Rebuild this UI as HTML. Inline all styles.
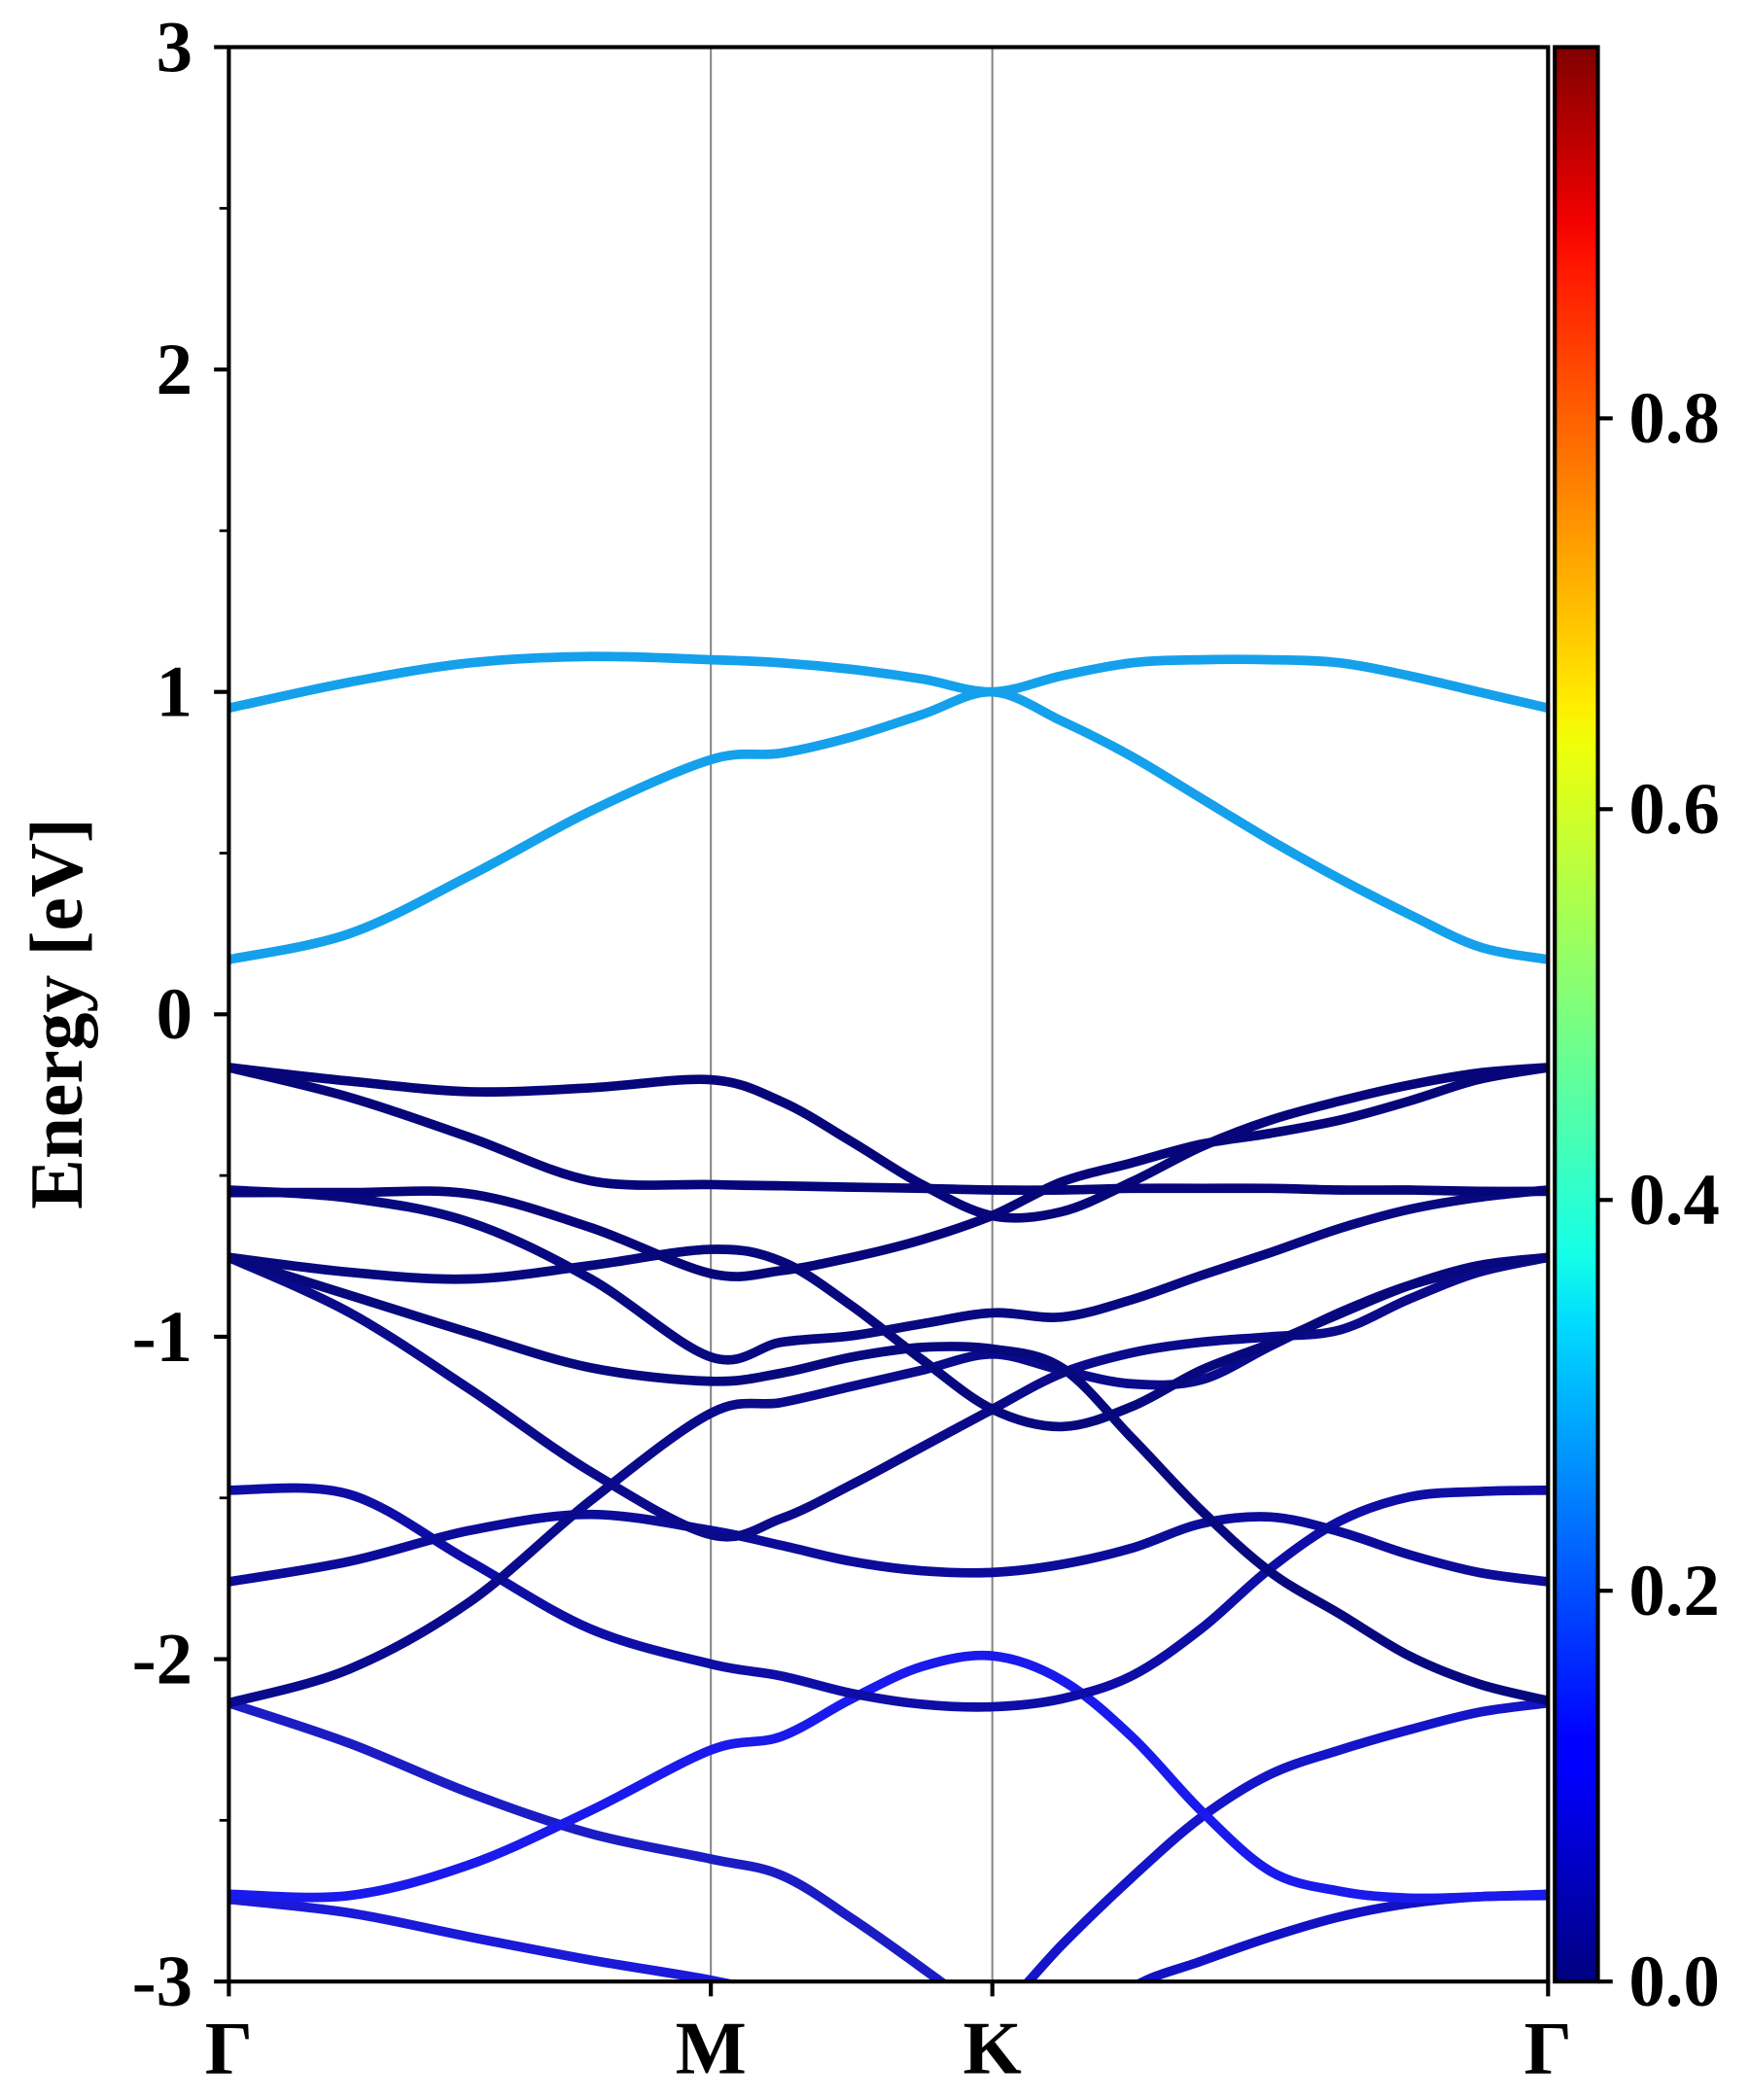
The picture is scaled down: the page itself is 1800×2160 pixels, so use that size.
<!DOCTYPE html>
<html><head><meta charset="utf-8"><style>
html,body{margin:0;padding:0;background:#fff;}
svg{display:block;}
svg text{font-family:"Liberation Serif","Times New Roman",Times,serif;font-weight:700;}
</style></head><body>
<svg id="chart" xmlns="http://www.w3.org/2000/svg" width="1800" height="2160" viewBox="0 0 1300 1560">
<defs>
<linearGradient id="jet" x1="0" y1="1" x2="0" y2="0">
<stop offset="0" stop-color="#00007f"/><stop offset="0.11" stop-color="#0000ff"/><stop offset="0.125" stop-color="#0000ff"/>
<stop offset="0.34" stop-color="#00dbff"/><stop offset="0.375" stop-color="#14ffe8"/><stop offset="0.64" stop-color="#efff08"/>
<stop offset="0.66" stop-color="#ffed00"/><stop offset="0.89" stop-color="#ff1300"/><stop offset="0.91" stop-color="#f20000"/>
<stop offset="1" stop-color="#800000"/></linearGradient>
<clipPath id="plotclip"><rect x="170" y="35" width="980" height="1437"/></clipPath>
</defs>
<rect x="0" y="0" width="1300" height="1560" fill="#fff"/>
<g id="hsym"></g>
<g id="bands" clip-path="url(#plotclip)"></g>
<rect x="170" y="35" width="980" height="1437" fill="none" stroke="#000" stroke-width="3"/>
<g id="axes"></g>
<text x="42" y="753" transform="rotate(-90 42 753)" text-anchor="middle" dominant-baseline="central" font-size="56">Energy [eV]</text>
<rect x="1155" y="35" width="32" height="1437" fill="url(#jet)" stroke="#000" stroke-width="3"/>
<g id="cbar"></g>
</svg>
<script>
const kGrid=[0,0.25,0.5,0.75,1,1.146,1.292,1.438,1.584,1.728,1.873,2.017,2.161,2.305,2.449,2.593,2.737];
const kLabels=["Γ","M","K","Γ"];
const kLabelPos=[0,1,1.584,2.737];
const yTicks=[3,2,1,0,-1,-2,-3];
const cbTicks=[0.0,0.2,0.4,0.6,0.8];
const cbMax=0.99;
const cb1=[0.95,1.03,1.09,1.11,1.10,1.09,1.07,1.04,1.00,1.05,1.09,1.10,1.10,1.09,1.05,1.00,0.95];
const cb2=[0.17,0.25,0.43,0.63,0.79,0.81,0.86,0.93,1.00,0.91,0.80,0.67,0.54,0.42,0.31,0.21,0.17];
const v1=[-0.165,-0.207,-0.24,-0.228,-0.203,-0.27,-0.395,-0.528,-0.625,-0.612,-0.52,-0.411,-0.328,-0.269,-0.219,-0.182,-0.165];
const v2=[-0.165,-0.257,-0.382,-0.516,-0.528,-0.532,-0.536,-0.540,-0.545,-0.545,-0.540,-0.540,-0.540,-0.545,-0.545,-0.549,-0.549];
const v3=[-0.553,-0.553,-0.557,-0.661,-0.804,-0.795,-0.754,-0.699,-0.624,-0.520,-0.461,-0.403,-0.369,-0.328,-0.269,-0.202,-0.165];
const v4=[-0.545,-0.570,-0.645,-0.820,-1.063,-1.017,-0.997,-0.960,-0.926,-0.939,-0.885,-0.810,-0.739,-0.664,-0.605,-0.568,-0.545];
const v5=[-0.754,-0.800,-0.821,-0.779,-0.729,-0.766,-0.904,-1.071,-1.225,-1.279,-1.217,-1.104,-1.021,-0.929,-0.841,-0.779,-0.754];
const v6=[-0.754,-0.871,-0.988,-1.096,-1.138,-1.113,-1.063,-1.033,-1.038,-1.096,-1.313,-1.538,-1.730,-1.860,-1.990,-2.077,-2.129];
const v7=[-0.754,-0.925,-1.163,-1.418,-1.614,-1.564,-1.459,-1.342,-1.225,-1.113,-1.050,-1.017,-1.000,-0.979,-0.883,-0.800,-0.754];
const v8=[-2.136,-2.031,-1.822,-1.509,-1.237,-1.204,-1.154,-1.104,-1.054,-1.104,-1.146,-1.134,-1.029,-0.925,-0.841,-0.787,-0.754];
const v9=[-1.760,-1.697,-1.601,-1.551,-1.601,-1.647,-1.697,-1.726,-1.731,-1.706,-1.656,-1.580,-1.559,-1.605,-1.676,-1.731,-1.760];
const v10=[-1.476,-1.489,-1.697,-1.906,-2.015,-2.052,-2.106,-2.140,-2.148,-2.123,-2.052,-1.906,-1.718,-1.572,-1.497,-1.480,-1.476];
const v11=[-2.729,-2.733,-2.637,-2.470,-2.282,-2.240,-2.123,-2.023,-1.990,-2.065,-2.240,-2.470,-2.658,-2.720,-2.741,-2.737,-2.729];
const v12=[-2.136,-2.261,-2.415,-2.541,-2.620,-2.670,-2.804,-2.958,-3.12,-3.3,null,null,null,null,null,null,null];
const v13=[-2.745,-2.787,-2.862,-2.933,-2.996,-3.05,-3.15,null,null,null,null,null,null,null,null,null,null];
const v14=[null,null,null,null,null,null,null,-3.3,-3.12,-2.887,-2.678,-2.491,-2.357,-2.282,-2.219,-2.165,-2.136];
const v15=[null,null,null,null,null,null,null,null,null,-3.2,-3.02,-2.937,-2.862,-2.799,-2.758,-2.737,-2.733];
const bandList=[v15,v14,v13,v12,v11,v10,v9,v8,v7,v6,v5,v4,v3,v2,v1,cb2,cb1];
const bandColors=["#1212c4","#1414c8","#1a1ad8","#1c1cc4","#1a1aec","#0e0ea6","#0c0c9a","#0a0a8c","#0a0a8a","#08087e","#08087e","#080880","#06067a","#06067a","#06067a","#15a0ec","#15a0ec"];
const NS="http://www.w3.org/2000/svg";
const X0=170,X1=1150,Y0=35,Y1=1472,kMax=2.737,eMin=-3,eMax=3;
function xs(k){return X0+(k/kMax)*(X1-X0);}
function ys(e){return Y1-(e-eMin)/(eMax-eMin)*(Y1-Y0);}
function mk(tag,attrs){const el=document.createElementNS(NS,tag);for(const a in attrs)el.setAttribute(a,attrs[a]);return el;}
function crPath(pts){let d="M"+pts[0][0].toFixed(1)+","+pts[0][1].toFixed(1);
 for(let i=0;i<pts.length-1;i++){const p0=pts[Math.max(0,i-1)],p1=pts[i],p2=pts[i+1],p3=pts[Math.min(pts.length-1,i+2)];
 const c1=[p1[0]+(p2[0]-p0[0])/6,p1[1]+(p2[1]-p0[1])/6],c2=[p2[0]-(p3[0]-p1[0])/6,p2[1]-(p3[1]-p1[1])/6];
 d+="C"+c1[0].toFixed(1)+","+c1[1].toFixed(1)+" "+c2[0].toFixed(1)+","+c2[1].toFixed(1)+" "+p2[0].toFixed(1)+","+p2[1].toFixed(1);}
 return d;}
const hs=document.getElementById('hsym');
kLabelPos.slice(1,3).forEach(k=>{const l=mk('line',{x1:xs(k),x2:xs(k),y1:Y0,y2:Y1,stroke:'#888',"stroke-width":1.5});


hs.appendChild(l);});
const bg=document.getElementById('bands');
bandList.forEach((b,bi)=>{const pts=[];b.forEach((e,i)=>{if(e!==null)pts.push([xs(kGrid[i]),ys(e)]);});
const p=mk('path',{d:crPath(pts),fill:'none',stroke:bandColors[bi],"stroke-width":7,"stroke-linecap":"round","stroke-linejoin":"round"});


bg.appendChild(p);});
const ax=document.getElementById('axes');
yTicks.forEach(t=>{const y=ys(t);
const tk=mk('line',{x1:159,x2:170,y1:y,y2:y,stroke:'#000',"stroke-width":3});


ax.appendChild(tk);
const tx=mk('text',{x:143,y:y+18,"text-anchor":"end","font-size":54});tx.textContent=String(t);


ax.appendChild(tx);
if(t>eMin){const ym=ys(t-0.5);const m=mk('line',{x1:163,x2:170,y1:ym,y2:ym,stroke:'#000',"stroke-width":2});


ax.appendChild(m);}});
kLabelPos.forEach((k,i)=>{const x=xs(k);
const tk=mk('line',{x1:x,x2:x,y1:Y1,y2:Y1+11,stroke:'#000',"stroke-width":3});


ax.appendChild(tk);
const tx=mk('text',{x:x,y:1540,"text-anchor":"middle","font-size":56});tx.textContent=kLabels[i];


ax.appendChild(tx);});
const cb=document.getElementById('cbar');
cbTicks.forEach(t=>{const y=Y1-(t/cbMax)*(Y1-Y0);
const tk=mk('line',{x1:1187,x2:1198,y1:y,y2:y,stroke:'#000',"stroke-width":3});


cb.appendChild(tk);
const tx=mk('text',{x:1210,y:y+18,"font-size":54});tx.textContent=t.toFixed(1);


cb.appendChild(tx);});
</script>
</body></html>
